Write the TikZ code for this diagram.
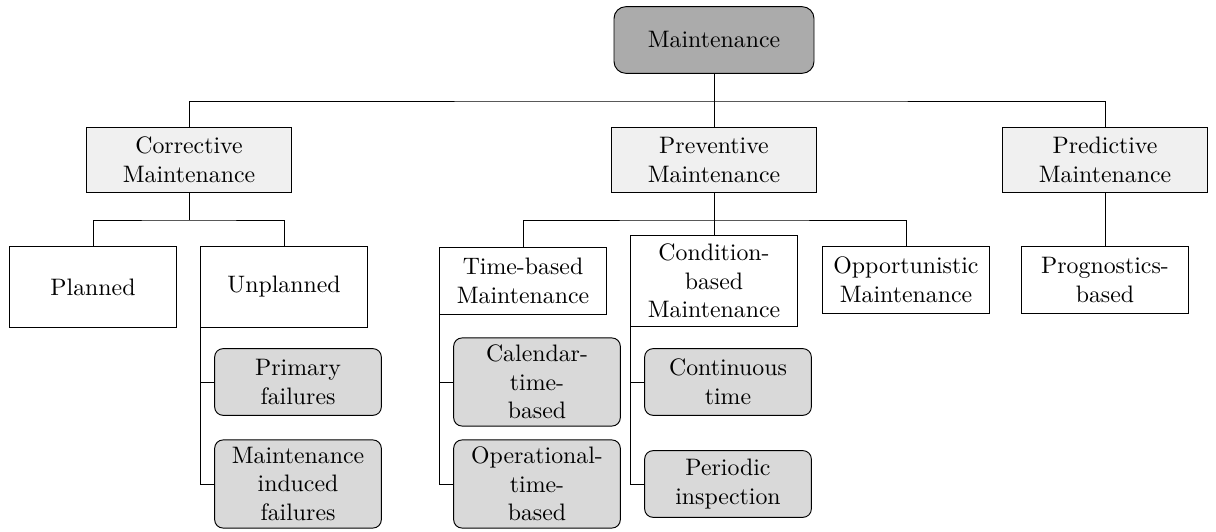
\documentclass[tikz,border=0pt]{standalone}
\usepackage{amssymb}
\usepackage{amsmath}
\usepackage{tikz}

\begin{document}
\begin{tikzpicture}[x=0.42pt,y=-0.42pt,
	rootbox/.style={draw,rounded corners=5pt,fill=black!33,minimum width=84pt,minimum height=28pt,align=center},
	typebox/.style={draw,fill=black!6,minimum width=86pt,minimum height=27pt,align=center},
	subbox/.style={draw,fill=white,minimum width=70pt,align=center,inner sep=2pt},
	leafbox/.style={draw,rounded corners=3.5pt,fill=black!15,minimum width=70pt,align=center,inner sep=2pt}]
		\useasboundingbox (0,0) rectangle (1216,532);
		% top
		\node[rootbox] (main) at (714,40) {Maintenance};
		\node[typebox] (cor) at (189,160) {Corrective\\Maintenance};
		\node[typebox] (prev) at (714,160) {Preventive\\Maintenance};
		\node[typebox] (pred) at (1105,160) {Predictive\\Maintenance};
		\coordinate (bus) at (714,101);
		\draw (main) -- (bus);
		\draw (cor.north) |- (bus) -| (pred.north);
		\draw (bus) -- (prev.north);
		% corrective
		\node[subbox,minimum height=34pt] (plan) at (93,287) {Planned};
		\node[subbox,minimum height=34pt] (unplan) at (284,287) {Unplanned};
		\coordinate (cbus) at (189,220);
		\draw (cor) -- (cbus);
		\draw (plan.north) |- (cbus) -| (unplan.north);
		\node[leafbox,minimum height=28pt] (prim) at (298,382) {Primary\\failures};
		\node[leafbox,minimum height=37pt] (induced) at (298,484) {Maintenance\\induced\\failures};
		\draw (unplan.south west) |- (prim.west);
		\draw (unplan.south west) |- (induced.west);
		% preventive
		\node[subbox,minimum height=28pt] (time) at (523,281) {Time-based\\Maintenance};
		\node[subbox,minimum height=38pt] (cond) at (714,281) {Condition-\\based\\Maintenance};
		\node[subbox,minimum height=28pt] (opp) at (906,280) {Opportunistic\\Maintenance};
		\coordinate (pbus) at (714,220);
		\draw (prev) -- (pbus);
		\draw (time.north) |- (pbus) -| (opp.north);
		\draw (pbus) -- (cond.north);
		\node[leafbox,minimum height=37pt] (cal) at (537,382) {Calendar-\\time-\\based};
		\node[leafbox,minimum height=37pt] (oper) at (537,484) {Operational-\\time-\\based};
		\draw (time.south west) |- (cal.west);
		\draw (time.south west) |- (oper.west);
		\node[leafbox,minimum height=28pt] (cont) at (728,382) {Continuous\\time};
		\node[leafbox,minimum height=28pt] (peri) at (728,484) {Periodic\\inspection};
		\draw (cond.south west) |- (cont.west);
		\draw (cond.south west) |- (peri.west);
		% predictive
		\node[subbox,minimum height=28pt] (prog) at (1105,280) {Prognostics-\\based};
		\draw (pred) -- (prog);
\end{tikzpicture}
\end{document}
